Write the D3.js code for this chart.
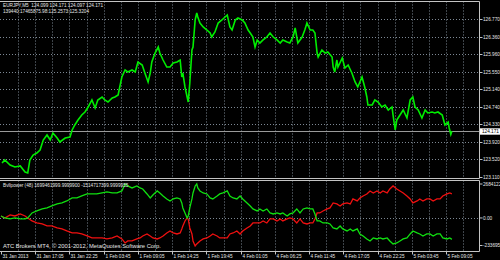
<!DOCTYPE html>
<html><head><meta charset="utf-8">
<script src="https://cdn.jsdelivr.net/npm/d3@7"></script>
<style>html,body{margin:0;padding:0;background:#000;overflow:hidden}svg{display:block}</style>
</head><body><svg id="c" width="500" height="260"></svg>
<script>
// ---- data ----
const headerLine1 = "EURJPY,M5  124.099 124.171 124.097 124.171";
const headerLine2 = "139440:17465875.98:125.2573:125.3204";
const indicatorLabel = "Bvllpower (48) 1699461999.9999900 -1514717399.9999955";
const copyrightText = "ATC Brokers MT4, \u00A9 2001-2012, MetaQuotes Software Corp.";
const bidPrice = 124.171;
const bidLabel = "124.171";

const priceTickLabels = ["126.770","126.360","125.960","125.550","125.140","124.740","124.330","123.920","123.520","123.110"];

const timeLabels = ["31 Jan 2013","31 Jan 17:05","31 Jan 22:25","1 Feb 03:45","1 Feb 09:05","1 Feb 14:25","1 Feb 19:45","4 Feb 01:05","4 Feb 06:25","4 Feb 11:45","4 Feb 17:05","4 Feb 22:25","5 Feb 03:45","5 Feb 09:05"];
const timeLabelBars = [0,64,128,192,256,320,384,448,512,576,640,704,768,832];

// M5 bar index of each sampled close
const priceBars = [
2,7,17,26,36,45,50,54,60,67,
73,79,86,92,97,105,110,120,129,133,
138,144,151,157,163,170,176,181,189,194,
200,208,213,219,222,226,232,237,245,251,
256,264,269,275,279,282,288,294,297,303,
310,316,322,329,335,338,340,344,348,350,
353,357,359,363,366,368,372,378,385,391,
394,400,406,413,419,423,428,432,438,443,
451,456,462,466,471,475,479,484,490,497,
503,509,516,522,527,535,540,546,550,553,
555,563,568,572,578,583,587,591,593,600,
606,611,619,621,624,628,630,638,643,649,
656,662,667,675,680,684,686,694,699,705,
712,718,724,731,733,737,740,746,752,759,
765,770,774,780,787,793,798,806,811,817,
825,830,836,838,841,843];
const priceValues = [
123.434,123.504,123.388,123.341,123.365,123.226,123.203,123.504,123.620,123.666,
123.735,123.967,124.083,123.967,124.129,124.013,123.921,124.013,124.037,124.199,
124.315,124.430,124.546,124.616,124.732,124.894,124.708,124.894,124.963,124.894,
124.847,124.940,124.963,125.010,125.195,125.426,125.589,125.542,125.589,125.542,
125.774,125.704,125.519,125.311,125.519,125.774,125.982,126.121,125.982,125.820,
125.658,125.658,125.751,125.774,125.820,125.426,125.519,125.195,124.963,124.847,
125.288,126.052,126.121,126.747,126.909,126.816,126.677,126.585,126.515,126.446,
126.353,126.469,126.677,126.747,126.816,126.863,126.585,126.515,126.747,126.793,
126.747,126.677,126.515,126.446,126.353,126.121,126.284,126.214,126.284,126.353,
126.446,126.353,126.284,126.214,126.284,126.237,126.214,126.353,126.562,126.353,
126.214,126.353,126.515,126.677,126.515,126.515,126.446,125.982,125.890,126.052,
125.982,126.006,125.890,125.658,125.542,125.820,125.658,125.867,125.635,125.704,
125.519,125.311,125.195,125.426,125.195,124.963,124.778,124.778,124.894,124.847,
124.732,124.778,124.662,124.732,124.546,124.199,124.430,124.546,124.662,124.477,
124.894,124.963,124.732,124.662,124.477,124.662,124.593,124.616,124.593,124.616,
124.546,124.315,124.384,124.245,124.097,124.171];

// indicator window: bar index and the two buffers (millions)
const subBars = [
0,7,17,26,36,45,50,58,67,77,
86,95,105,114,123,133,142,151,161,170,
179,189,198,208,217,226,232,237,245,254,
260,265,273,279,284,292,297,303,310,316,
322,329,335,338,340,344,348,350,353,357,
359,363,366,368,372,378,385,391,396,404,
409,415,423,428,434,441,447,452,460,466,
471,479,484,490,497,503,509,516,522,527,
535,540,546,553,559,565,572,578,583,587,
591,596,602,610,615,621,628,634,639,647,
653,658,666,671,677,684,690,696,703,709,
714,722,727,733,740,746,752,759,765,770,
778,783,789,796,802,808,815,821,826,834,
839,843];
const redBuffer = [
141,0,212,141,283,141,0,-212,-354,-424,
-566,-566,-707,-778,-919,-1061,-1061,-1132,-1273,-1414,
-1414,-1414,-1485,-1414,-1273,-1485,-1768,-1627,-1627,-1485,
-1414,-1273,-1132,-1273,-1414,-1485,-1414,-1273,-1061,-919,
-1061,-1132,-1061,-778,-566,-212,0,-71,-707,-1132,
-1627,-1980,-1839,-1768,-1627,-1485,-1414,-1273,-1132,-1273,
-1414,-1414,-1414,-1132,-1061,-919,-1132,-919,-707,-566,
-354,-354,-354,-212,-354,-71,-71,-212,-71,-212,
-71,0,-71,-354,-71,-354,-424,-354,-354,-71,
354,354,495,636,707,1061,990,849,990,1061,
990,1344,1202,1414,1556,1697,1909,1768,1909,1768,
1909,1768,2051,2263,2051,1909,1768,1556,1344,1061,
1202,1344,1202,1344,1344,1202,1344,1344,1556,1697,
1768,1699.46];
const greenBuffer = [
141,0,-71,0,-71,-71,0,354,495,636,
707,849,990,1061,1202,1414,1414,1556,1697,1697,
1697,1768,1839,1768,1768,1909,2404,2263,2122,2263,
2122,2051,1697,1414,1627,1909,1768,1556,1344,1202,
1344,1414,1344,1061,707,354,0,141,707,1344,
1768,2263,2404,2122,1909,1768,1697,1414,1344,1556,
1697,1768,1909,1556,1414,1344,1556,1344,1061,849,
636,495,636,495,636,354,283,354,283,354,
141,283,354,636,354,636,707,636,636,283,
-212,-212,-354,-354,-424,-707,-778,-566,-778,-919,
-778,-919,-778,-1132,-1273,-1485,-1627,-1414,-1485,-1414,
-1485,-1414,-1627,-1839,-1768,-1627,-1485,-1414,-1132,-919,
-1061,-1132,-1273,-1132,-1132,-1273,-1132,-1132,-1414,-1485,
-1414,-1514.72];
const subMax = 2684.122, subMin = -2336.95;
const subTickLabels = ["2684122","0.00","-233695"];
const subTickValues = [subMax, 0, subMin];

// ---- layout ----
const W = 500, H = 260;
const frameR = 479.5;
const mainTop = 1.5, mainBot = 178.5;
const subTop = 180.5, subBot = 251.5;
const FONT = "'Liberation Sans', Arial, sans-serif";
const GRID = "#7d8894";
const FRAME = "#c4c4c4";
const TXT = "#e6e6e6";

const svg = d3.select("#c");
svg.append("rect").attr("width", W).attr("height", H).attr("fill", "#000");

const x = d3.scaleLinear().domain([0, 832]).range([1, 446]);
const yMain = d3.scaleLinear().domain([123.110, 126.770]).range([177, 19]);
const ySub = d3.scaleLinear().domain([subMin, subMax]).range([251, 180]);

const defs = svg.append("defs");
defs.append("clipPath").attr("id", "cm").append("rect")
  .attr("x", 0).attr("y", mainTop).attr("width", frameR).attr("height", mainBot - mainTop);
defs.append("clipPath").attr("id", "cs").append("rect")
  .attr("x", 0).attr("y", subTop).attr("width", frameR).attr("height", subBot - subTop);

// vertical grid every 32 bars
const gridBars = d3.range(32, 900, 32).filter(b => x(b) < frameR - 1);
function vgrid(y0, y1) {
  svg.append("g").selectAll("line").data(gridBars).join("line")
    .attr("x1", d => Math.round(x(d)) + 0.5).attr("x2", d => Math.round(x(d)) + 0.5)
    .attr("y1", y0).attr("y2", y1)
    .attr("stroke", GRID).attr("stroke-width", 1).attr("stroke-dasharray", "1,2");
}
vgrid(mainTop, mainBot);
vgrid(subTop, subBot);

// horizontal grid main
const priceTickValues = priceTickLabels.map(Number);
svg.append("g").selectAll("line").data(priceTickValues.slice(0, -1)).join("line")
  .attr("x1", 0).attr("x2", frameR)
  .attr("y1", d => Math.round(yMain(d)) + 0.5).attr("y2", d => Math.round(yMain(d)) + 0.5)
  .attr("stroke", GRID).attr("stroke-width", 1).attr("stroke-dasharray", "1,2");
// zero level in sub window
svg.append("line").attr("x1", 0).attr("x2", frameR)
  .attr("y1", Math.round(ySub(0)) + 0.5).attr("y2", Math.round(ySub(0)) + 0.5)
  .attr("stroke", GRID).attr("stroke-width", 1).attr("stroke-dasharray", "1,2");

// bid line
svg.append("line").attr("x1", 0).attr("x2", frameR)
  .attr("y1", Math.round(yMain(bidPrice)) + 0.5).attr("y2", Math.round(yMain(bidPrice)) + 0.5)
  .attr("stroke", "#9a9a9a").attr("stroke-width", 1);

// price line
const priceData = priceBars.map((b, i) => [b, priceValues[i]]);
svg.append("path").datum(priceData)
  .attr("clip-path", "url(#cm)")
  .attr("fill", "none").attr("stroke", "#00ee00").attr("stroke-width", 1.6)
  .attr("stroke-linejoin", "miter")
  .attr("d", d3.line().x(d => x(d[0])).y(d => yMain(d[1])));

// indicator lines
const subLine = d3.line().x(d => x(d[0])).y(d => ySub(d[1]));
svg.append("path").datum(subBars.map((b, i) => [b, redBuffer[i]]))
  .attr("clip-path", "url(#cs)")
  .attr("fill", "none").attr("stroke", "#f01010").attr("stroke-width", 1.3)
  .attr("d", subLine);
svg.append("path").datum(subBars.map((b, i) => [b, greenBuffer[i]]))
  .attr("clip-path", "url(#cs)")
  .attr("fill", "none").attr("stroke", "#10e010").attr("stroke-width", 1.3)
  .attr("d", subLine);

// frames
svg.append("path")
  .attr("d", `M0,${mainTop}H${frameR}V${mainBot}H0`)
  .attr("fill", "none").attr("stroke", FRAME).attr("stroke-width", 1);
svg.append("path")
  .attr("d", `M0,${subTop}H${frameR}V${subBot}H0`)
  .attr("fill", "none").attr("stroke", FRAME).attr("stroke-width", 1);

// right axis main
const fs = 4.7;
const ra = svg.append("g").attr("font-family", FONT).attr("font-size", fs).attr("fill", TXT);
priceTickLabels.forEach((t, i) => {
  const yy = Math.round(yMain(priceTickValues[i])) + 0.5;
  svg.append("line").attr("x1", frameR).attr("x2", frameR + 3).attr("y1", yy).attr("y2", yy)
    .attr("stroke", FRAME).attr("stroke-width", 1);
  ra.append("text").attr("x", 483).attr("y", yy + fs * 0.36).text(t);
});
// bid label
const by = Math.round(yMain(bidPrice)) + 0.5;
svg.append("rect").attr("x", 480).attr("y", by - 3.2).attr("width", 20).attr("height", 6.4).attr("fill", "#ffffff");
svg.append("text").attr("x", 482).attr("y", by + fs * 0.36)
  .attr("font-family", FONT).attr("font-size", fs).attr("fill", "#000").text(bidLabel);

// right axis sub
subTickValues.forEach((v, i) => {
  let yy = ySub(v);
  yy = Math.max(184, Math.min(245.5, yy));
  svg.append("line").attr("x1", frameR).attr("x2", frameR + 3).attr("y1", yy).attr("y2", yy)
    .attr("stroke", FRAME).attr("stroke-width", 1);
  ra.append("text").attr("x", 483).attr("y", yy + fs * 0.36).text(subTickLabels[i]);
});

// time axis
const ta = svg.append("g").attr("font-family", FONT).attr("font-size", fs).attr("fill", TXT);
timeLabelBars.forEach((b, i) => {
  const xx = Math.round(x(b)) + 0.5;
  svg.append("line").attr("x1", xx).attr("x2", xx).attr("y1", subBot).attr("y2", subBot + 3)
    .attr("stroke", FRAME).attr("stroke-width", 1);
  ta.append("text").attr("x", xx + 1).attr("y", 257.7).text(timeLabels[i]);
});

// header texts
const ht = svg.append("g").attr("font-family", FONT).attr("font-size", fs).attr("fill", TXT);
ht.append("text").attr("x", 3).attr("y", 7.2).text(headerLine1).attr("xml:space", "preserve").style("white-space", "pre");
ht.append("text").attr("x", 3).attr("y", 12.8).text(headerLine2);
ht.append("text").attr("x", 3).attr("y", 186.7).text(indicatorLabel);
svg.append("text").attr("x", 3).attr("y", 248.2)
  .attr("font-family", FONT).attr("font-size", 5.8).attr("fill", TXT).text(copyrightText);
</script></body></html>
